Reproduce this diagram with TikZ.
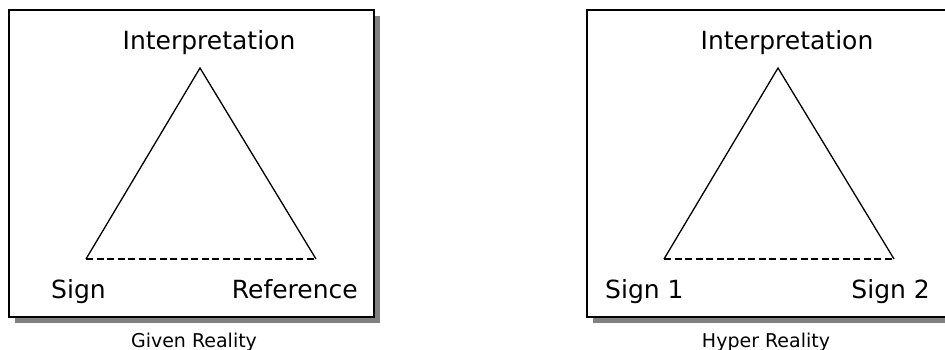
\documentclass[tikz,border=0pt]{standalone}
\usepackage{fontspec}
\setmainfont{DejaVu Sans}
\usepackage{tikz}
\tikzset{
  bigtext/.style={font=\fontsize{25}{28}\selectfont, inner sep=0pt, anchor=base},
  smalltext/.style={font=\fontsize{19}{22}\selectfont, inner sep=0pt, anchor=base},
  frame/.style={draw=black, line width=1.5pt, fill=white},
  frameshadow/.style={fill=black!50, draw=none},
  sideline/.style={line width=1.3pt},
  baseline/.style={line width=1.3pt, dash pattern=on 7pt off 3.5pt}
}

\begin{document}
\begin{tikzpicture}[x=1pt,y=-1pt]
			\clip (0,0) rectangle (945,350);
			%%%%% GIVEN REALITY %%%%%
			\fill[frameshadow] (15,16) rectangle (380,323);
			\draw[frame] (9,10) rectangle (374,317);
			
			\coordinate (gInt) at (200,68);
			\coordinate (gSign) at (86,259);
			\coordinate (gRef) at (316,259);
			\draw[sideline] (gSign) -- (gInt) -- (gRef);
			\draw[baseline] (gSign) -- (gRef);
			
			\node[bigtext] (gIntLabel) at (209,50) {Interpretation};
			\node[bigtext, anchor=base west] (gSignLabel) at (51,298) {Sign};
			\node[bigtext, anchor=base east] (gRefLabel) at (358,298) {Reference};
			\node[smalltext] (gCaption) at (194,347.5) {Given Reality};
			
			%%%%% HYPER REALITY %%%%%
			\fill[frameshadow] (593,16) rectangle (958,323);
			\draw[frame] (587,10) rectangle (952,317);
			
			\coordinate (hInt) at (778,68);
			\coordinate (hSignA) at (664,259);
			\coordinate (hSignB) at (894,259);
			\draw[sideline] (hSignA) -- (hInt) -- (hSignB);
			\draw[baseline] (hSignA) -- (hSignB);
			
			\node[bigtext] (hIntLabel) at (787,50) {Interpretation};
			\node[bigtext, anchor=base west] (hSignALabel) at (605,298) {Sign 1};
			\node[bigtext, anchor=base east] (hSignBLabel) at (930,298) {Sign 2};
			\node[smalltext] (hCaption) at (766,347.5) {Hyper Reality};
		\end{tikzpicture}
\end{document}
